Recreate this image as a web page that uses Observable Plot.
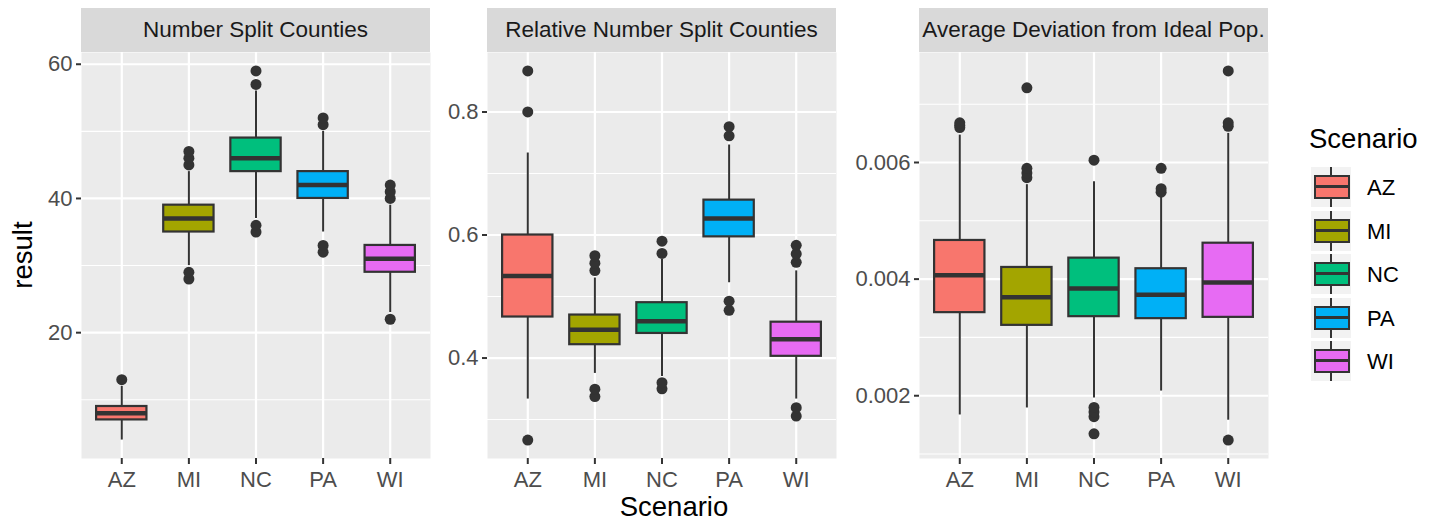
<!DOCTYPE html>
<html>
<head>
<meta charset="utf-8">
<script src="https://cdn.jsdelivr.net/npm/d3@7"></script>
<script src="https://cdn.jsdelivr.net/npm/@observablehq/plot@0.6"></script>
<style>
  body { margin: 0; background: #fff; font-family: "Liberation Sans", Arial, Helvetica, sans-serif; }
  #chart { position: relative; width: 1436px; height: 521px; overflow: hidden; background: #fff; }
  .strip { position: absolute; top: 8px; height: 44px; background: #D9D9D9; color: #1A1A1A;
           font-size: 22.5px; display: flex; align-items: center; justify-content: center; white-space: nowrap; }
  .panel { position: absolute; top: 52px; }
  .panel svg { overflow: visible; }
  #overlay { position: absolute; left: 0; top: 0; pointer-events: none; font-family: "Liberation Sans", Arial, Helvetica, sans-serif; }
  .key { position: absolute; left: 1311px; width: 40px; height: 40px; background: #F2F2F2; }
  .key .wh { position: absolute; left: 19px; width: 2px; top: 0; height: 40px; background: #333333; }
  .key .bx { position: absolute; left: 3px; top: 8px; width: 32px; height: 20px; border: 2px solid #333333; }
  .key .md { position: absolute; left: 3px; top: 18px; width: 36px; height: 3px; background: #333333; }
</style>
</head>
<body>
<div id="chart"></div>
<script>
// ---------- data ----------
const states = ["AZ", "MI", "NC", "PA", "WI"];
const stateFills = ["#F8766D", "#A3A500", "#00BF7D", "#00B0F6", "#E76BF3"];
const panelTitles = ["Number Split Counties", "Relative Number Split Counties", "Average Deviation from Ideal Pop."];

// Panel 1: Number Split Counties
const splitLow      = [4, 30, 37, 35, 23];
const splitQ1       = [7, 35, 44, 40, 29];
const splitMedian   = [8, 37, 46, 42, 31];
const splitQ3       = [9, 39, 49, 44, 33];
const splitHigh     = [12, 44, 56, 50, 39];
const splitOutliers = [[13], [28, 29, 45, 46, 47], [35, 36, 57, 59], [32, 33, 51, 52], [22, 40, 41, 42]];
const splitTicks = [20, 40, 60];
const splitTickLabels = ["20", "40", "60"];
const splitMinor = [10, 30, 50];

// Panel 2: Relative Number Split Counties
const relLow      = [0.3333, 0.3750, 0.37, 0.5224, 0.3333];
const relQ1       = [0.4667, 0.4217, 0.44, 0.5970, 0.4028];
const relMedian   = [0.5333, 0.4458, 0.46, 0.6269, 0.4306];
const relQ3       = [0.6000, 0.4699, 0.49, 0.6567, 0.4583];
const relHigh     = [0.7333, 0.5301, 0.56, 0.7463, 0.5417];
const relOutliers = [[0.2667, 0.8, 0.8667], [0.3373, 0.3494, 0.5422, 0.5542, 0.5663], [0.35, 0.36, 0.57, 0.59],
                     [0.4776, 0.4925, 0.7612, 0.7761], [0.3056, 0.3194, 0.5556, 0.5694, 0.5833]];
const relTicks = [0.4, 0.6, 0.8];
const relTickLabels = ["0.4", "0.6", "0.8"];
const relMinor = [0.3, 0.5, 0.7];

// Panel 3: Average Deviation from Ideal Pop.
const devLow      = [0.00167, 0.00179, 0.00196, 0.00208, 0.00158];
const devQ1       = [0.003425, 0.003207, 0.003356, 0.003322, 0.003344];
const devMedian   = [0.004068, 0.003687, 0.003841, 0.003733, 0.003943];
const devQ3       = [0.004663, 0.004200, 0.004360, 0.004178, 0.004616];
const devHigh     = [0.00647, 0.00562, 0.00567, 0.00542, 0.00650];
const devOutliers = [[0.00660, 0.00664, 0.00668], [0.00574, 0.00582, 0.00590, 0.00728],
                     [0.001346, 0.00164, 0.00172, 0.00180, 0.00604], [0.00549, 0.00555, 0.00590],
                     [0.00124, 0.00662, 0.00668, 0.00757]];
const devTicks = [0.002, 0.004, 0.006];
const devTickLabels = ["0.002", "0.004", "0.006"];
const devMinor = [0.001, 0.003, 0.005, 0.007];

// ---------- layout ----------
const panelW = 349, panelH = 406, marginB = 40;
const panels = [
  {svgLeft: 0,   marginLeft: 81, low: splitLow, q1: splitQ1, med: splitMedian, q3: splitQ3, high: splitHigh, out: splitOutliers, ticks: splitTicks, labels: splitTickLabels, minor: splitMinor},
  {svgLeft: 430, marginLeft: 57, low: relLow, q1: relQ1, med: relMedian, q3: relQ3, high: relHigh, out: relOutliers, ticks: relTicks, labels: relTickLabels, minor: relMinor},
  {svgLeft: 836, marginLeft: 83, low: devLow, q1: devQ1, med: devMedian, q3: devQ3, high: devHigh, out: devOutliers, ticks: devTicks, labels: devTickLabels, minor: devMinor}
];

const chart = document.getElementById("chart");
const dark = "#333333";
const fontFam = "'Liberation Sans', Arial, Helvetica, sans-serif";

panels.forEach((p, k) => {
  const boxes = states.map((s, i) => ({state: s, low: p.low[i], q1: p.q1[i], med: p.med[i], q3: p.q3[i], high: p.high[i]}));
  const outs = states.flatMap((s, i) => p.out[i].map(v => ({state: s, value: v})));
  const all = [...p.low, ...p.high, ...outs.map(d => d.value)];
  const lo = d3.min(all), hi = d3.max(all), pad = (hi - lo) * 0.05;

  const svg = Plot.plot({
    width: p.marginLeft + panelW,
    height: panelH + marginB,
    marginLeft: p.marginLeft, marginRight: 0, marginTop: 0, marginBottom: marginB,
    style: {background: "transparent", fontFamily: fontFam, overflow: "visible"},
    x: {type: "band", domain: states, paddingInner: 0.25, paddingOuter: 0.225, align: 0.5, round: false, label: null},
    y: {domain: [lo - pad, hi + pad], nice: false, label: null},
    color: {domain: states, range: stateFills},
    marks: [
      Plot.frame({fill: "#EBEBEB", stroke: null}),
      Plot.ruleY(p.minor, {stroke: "white", strokeWidth: 1.1}),
      Plot.ruleY(p.ticks, {stroke: "white", strokeWidth: 2.2}),
      Plot.ruleX(states, {x: d => d, stroke: "white", strokeWidth: 2.2}),
      Plot.ruleX(boxes, {x: "state", y1: "q3", y2: "high", stroke: dark, strokeWidth: 2}),
      Plot.ruleX(boxes, {x: "state", y1: "low", y2: "q1", stroke: dark, strokeWidth: 2}),
      Plot.barY(boxes, {x: "state", y1: "q1", y2: "q3", fill: "state", stroke: dark, strokeWidth: 2.2}),
      Plot.tickY(boxes, {x: "state", y: "med", stroke: dark, strokeWidth: 4.5}),
      Plot.dot(outs, {x: "state", y: "value", r: 5.5, fill: dark, stroke: null}),
      Plot.axisY(p.ticks, {tickSize: 5, tickPadding: 4, fontSize: 22, stroke: dark, strokeWidth: 2, fill: "#4D4D4D",
                           tickFormat: (d) => p.labels[p.ticks.indexOf(d)], label: null}),
      Plot.axisX({tickSize: 6, tickPadding: 7, fontSize: 22, stroke: dark, strokeWidth: 2, fill: "#4D4D4D", label: null})
    ]
  });
  const wrap = document.createElement("div");
  wrap.className = "panel";
  wrap.style.left = p.svgLeft + "px";
  wrap.appendChild(svg);
  chart.appendChild(wrap);

  const strip = document.createElement("div");
  strip.className = "strip";
  strip.style.left = (p.svgLeft + p.marginLeft) + "px";
  strip.style.width = panelW + "px";
  strip.textContent = panelTitles[k];
  chart.appendChild(strip);
});

// legend keys
states.forEach((s, i) => {
  const top = 167 + i * 43.5;
  const key = document.createElement("div");
  key.className = "key";
  key.style.top = top + "px";
  key.innerHTML = `<div class="wh"></div><div class="bx" style="background:${stateFills[i]}"></div><div class="md"></div>`;
  chart.appendChild(key);
});

// overlay texts (axis titles, legend title and labels)
const ns = "http://www.w3.org/2000/svg";
const ov = document.createElementNS(ns, "svg");
ov.setAttribute("id", "overlay");
ov.setAttribute("width", 1436);
ov.setAttribute("height", 521);
function addText(str, x, y, size, anchor, rot) {
  const t = document.createElementNS(ns, "text");
  t.setAttribute("x", 0); t.setAttribute("y", 0);
  t.setAttribute("transform", `translate(${x},${y})` + (rot ? ` rotate(${rot})` : ""));
  t.setAttribute("font-size", size);
  t.setAttribute("text-anchor", anchor);
  t.setAttribute("fill", "#000");
  t.textContent = str;
  ov.appendChild(t);
}
addText("result", 31.5, 255, 27.5, "middle", -90);
addText("Scenario", 674, 516, 27.5, "middle", 0);
addText("Scenario", 1309, 148, 27.5, "start", 0);
states.forEach((s, i) => addText(s, 1367, 195 + i * 43.5, 22, "start", 0));
chart.appendChild(ov);
</script>
</body>
</html>
